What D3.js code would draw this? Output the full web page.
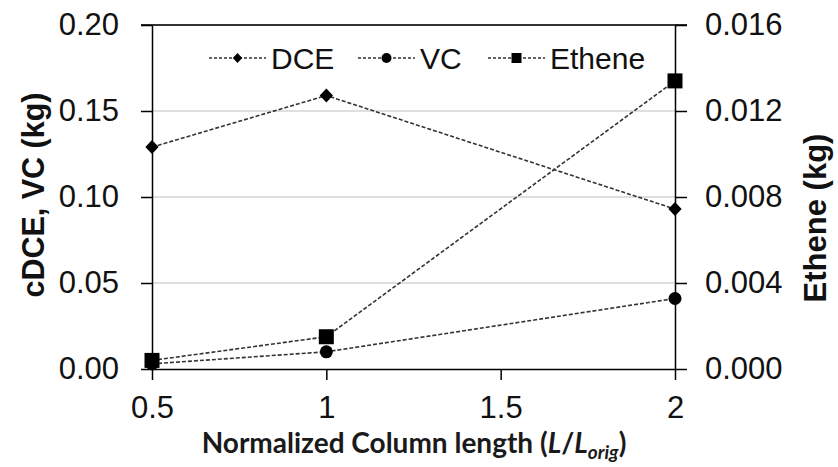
<html>
<head>
<script src="https://d3js.org/d3.v7.min.js" charset="utf-8"></script>
<style>
  body { margin: 0; background: #fff; }
  text { font-family: "Liberation Sans", Arial, sans-serif; }
</style>
</head>
<body>
<div id="graph"></div>
<script>
// data
const lengths = [0.5, 1, 2];
const dce = [0.129, 0.159, 0.093];
const vc = [0.003, 0.010, 0.041];
const ethene = [0.0004, 0.0015, 0.0134];
const xTicks = [0.5, 1, 1.5, 2];
const leftTicks = [0, 0.05, 0.10, 0.15, 0.20];
const rightTicks = [0, 0.004, 0.008, 0.012, 0.016];
const seriesNames = ['DCE', 'VC', 'Ethene'];

const w = 838, h = 467;
const m = {top: 25, right: 163, bottom: 98, left: 152};

const svg = d3.select('#graph').append('svg')
    .attr('width', w).attr('height', h);

const x = d3.scaleLinear().domain([0.5, 2]).range([m.left, w - m.right]);
const yL = d3.scaleLinear().domain([0, 0.2]).range([h - m.bottom, m.top]);
const yR = d3.scaleLinear().domain([0, 0.016]).range([h - m.bottom, m.top]);

// gridlines
svg.append('g').selectAll('line')
    .data(leftTicks.filter(d => d > 0 && d < 0.2))
    .enter().append('line')
    .attr('x1', m.left).attr('x2', w - m.right)
    .attr('y1', d => yL(d)).attr('y2', d => yL(d))
    .style('stroke', '#d4d4d4').style('stroke-width', 1.5);

// top border
svg.append('line')
    .attr('x1', m.left - 11).attr('x2', w - m.right + 12)
    .attr('y1', yL(0.2)).attr('y2', yL(0.2))
    .style('stroke', '#333').style('stroke-width', 2);

function styleAxis(g) {
    g.select('.domain').style('stroke', '#000').style('stroke-width', 1.5);
    g.selectAll('.tick line').style('stroke', '#000').style('stroke-width', 1.5);
    g.selectAll('.tick text').style('font-family', '"Liberation Sans", Arial, sans-serif')
        .style('font-size', '31px').style('fill', '#111');
}

svg.append('g')
    .attr('transform', 'translate(' + m.left + ',0)')
    .call(d3.axisLeft(yL).tickValues(leftTicks).tickFormat(d3.format('.2f'))
        .tickSize(11).tickSizeOuter(0).tickPadding(22))
    .call(styleAxis);

svg.append('g')
    .attr('transform', 'translate(' + (w - m.right) + ',0)')
    .call(d3.axisRight(yR).tickValues(rightTicks).tickFormat(d3.format('.3f'))
        .tickSize(12).tickSizeOuter(0).tickPadding(18))
    .call(styleAxis);

svg.append('g')
    .attr('transform', 'translate(0,' + (h - m.bottom) + ')')
    .call(d3.axisBottom(x).tickValues(xTicks).tickFormat(d => d)
        .tickSize(11).tickSizeOuter(0).tickPadding(16))
    .call(styleAxis);

// axis titles
svg.append('text')
    .attr('transform', 'translate(44,195) rotate(-90)')
    .style('text-anchor', 'middle').style('font-weight', 'bold')
    .style('font-size', '30.5px').style('fill', '#111')
    .text('cDCE, VC (kg)');

svg.append('text')
    .attr('transform', 'translate(826,218) rotate(-90)')
    .style('text-anchor', 'middle').style('font-weight', 'bold')
    .style('font-size', '31px').style('fill', '#111')
    .text('Ethene (kg)');

const xt = svg.append('text')
    .attr('x', 414).attr('y', 453)
    .style('text-anchor', 'middle').style('font-weight', 'bold')
    .style('font-family', 'Lato, "Open Sans", sans-serif')
    .style('font-size', '28px').style('fill', '#1a1a1a');
xt.append('tspan').text('Normalized Column length (');
xt.append('tspan').style('font-style', 'italic').text('L');
xt.append('tspan').text('/');
xt.append('tspan').style('font-style', 'italic').text('L');
xt.append('tspan').style('font-style', 'italic').style('font-size', '19px')
    .attr('dy', 6).text('orig');
xt.append('tspan').attr('dy', -6).text(')');

// markers
function marker(type, s) {
    if (type === 'DCE') {
        return 'M0,' + (-s) + 'L' + (s * 0.95) + ',0L0,' + s + 'L' + (-s * 0.95) + ',0Z';
    }
    if (type === 'VC') {
        return d3.symbol().type(d3.symbolCircle).size(Math.PI * s * s)();
    }
    return 'M' + (-s) + ',' + (-s) + 'h' + (2 * s) + 'v' + (2 * s) + 'h' + (-2 * s) + 'Z';
}

const series = [
    {name: 'DCE', values: dce, y: yL, size: 7},
    {name: 'VC', values: vc, y: yL, size: 6.5},
    {name: 'Ethene', values: ethene, y: yR, size: 7.5}
];

series.forEach(function(s) {
    const pts = lengths.map((d, i) => [x(d), s.y(s.values[i])]);
    svg.append('path')
        .attr('d', d3.line()(pts))
        .style('fill', 'none').style('stroke', '#333')
        .style('stroke-width', 1.6).style('stroke-dasharray', '4,2');
    svg.append('g').selectAll('path')
        .data(pts).enter().append('path')
        .attr('transform', d => 'translate(' + d[0] + ',' + d[1] + ')')
        .attr('d', marker(s.name, s.size))
        .style('fill', '#000');
});

// legend
const legendX = [209, 358, 488];
const legend = svg.append('g').selectAll('g')
    .data(seriesNames).enter().append('g')
    .attr('transform', (d, i) => 'translate(' + legendX[i] + ',58)');
legend.append('line')
    .attr('x1', 0).attr('x2', 57)
    .style('stroke', '#333').style('stroke-width', 1.6).style('stroke-dasharray', '3,2');
legend.append('path')
    .attr('transform', 'translate(28.5,0)')
    .attr('d', d => marker(d, 5))
    .style('fill', '#000');
legend.append('text')
    .attr('x', 62).attr('dy', '0.36em')
    .style('font-size', '30px').style('fill', '#111')
    .text(d => d);
</script>
</body>
</html>
